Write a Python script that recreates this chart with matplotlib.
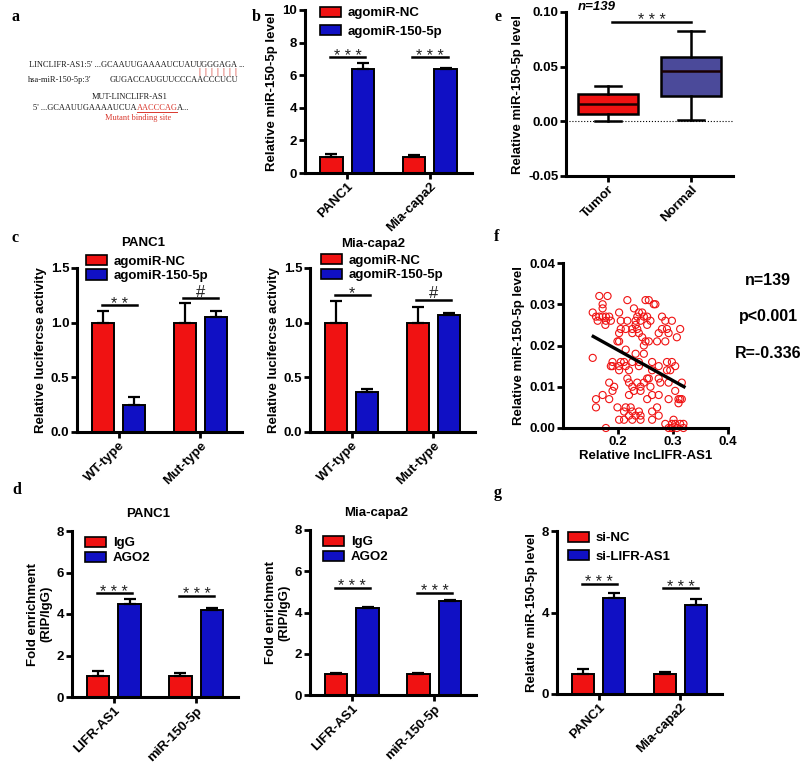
import matplotlib
matplotlib.use("Agg")
import matplotlib.pyplot as plt
from matplotlib.patches import Patch
from matplotlib.lines import Line2D
import numpy as np

plt.rcParams['font.family'] = ['Liberation Sans', 'DejaVu Sans']
plt.rcParams['font.weight'] = 'bold'
plt.rcParams['axes.labelweight'] = 'bold'

W, H = 800, 767
RED = '#F01212'
BLUE = '#1010C4'
SLATE = '#4B4A9A'

# ---------------- data ----------------
# panel b
b_groups = ['PANC1', 'Mia-capa2']
b_legend = ['agomiR-NC', 'agomiR-150-5p']
b_nc = [1.0, 1.0]
b_nc_err = [0.15, 0.10]
b_ago = [6.35, 6.35]
b_ago_err = [0.38, 0.08]
b_sig = ['***', '***']
b_sig_y = [7.1, 7.1]

# panel c
c_groups = ['WT-type', 'Mut-type']
c1_nc = [1.0, 1.0]
c1_nc_err = [0.11, 0.18]
c1_ago = [0.25, 1.05]
c1_ago_err = [0.07, 0.06]
c1_sig = ['**', '#']
c1_sig_y = [1.16, 1.226]
c2_nc = [1.0, 1.0]
c2_nc_err = [0.20, 0.14]
c2_ago = [0.37, 1.07]
c2_ago_err = [0.02, 0.02]
c2_sig = ['*', '#']
c2_sig_y = [1.253, 1.21]

# panel d
d_groups = ['LIFR-AS1', 'miR-150-5p']
d_legend = ['IgG', 'AGO2']
d1_igg = [1.0, 1.0]
d1_igg_err = [0.25, 0.15]
d1_ago = [4.5, 4.2]
d1_ago_err = [0.2, 0.07]
d1_sig_y = [5.0, 4.87]
d2_igg = [1.0, 1.0]
d2_igg_err = [0.05, 0.05]
d2_ago = [4.2, 4.55]
d2_ago_err = [0.05, 0.05]
d2_sig_y = [5.2, 4.95]

# panel e (box stats)
e_groups = ['Tumor', 'Normal']
e_whislo = [0.0, 0.001]
e_q1 = [0.007, 0.023]
e_med = [0.016, 0.046]
e_q3 = [0.025, 0.059]
e_whishi = [0.032, 0.083]
e_sig_y = 0.091

# panel f scatter
f_x = [0.166, 0.181, 0.172, 0.172, 0.154, 0.160, 0.166, 0.172, 0.178, 0.184,
       0.178, 0.177, 0.187, 0.163, 0.154, 0.202, 0.205, 0.217, 0.229, 0.217,
       0.232, 0.244, 0.250, 0.256, 0.268, 0.253, 0.259, 0.280, 0.286, 0.313,
       0.307, 0.289, 0.292, 0.280, 0.274, 0.271, 0.286, 0.202, 0.199, 0.202,
       0.214, 0.226, 0.235, 0.238, 0.232, 0.244, 0.250, 0.247, 0.256, 0.214,
       0.232, 0.247, 0.190, 0.205, 0.190, 0.202, 0.187, 0.214, 0.226, 0.238,
       0.238, 0.262, 0.274, 0.262, 0.298, 0.304, 0.289, 0.295, 0.202, 0.220,
       0.274, 0.256, 0.235, 0.247, 0.220, 0.184, 0.193, 0.190, 0.226, 0.241,
       0.259, 0.277, 0.292, 0.316, 0.304, 0.241, 0.229, 0.172, 0.184, 0.160,
       0.160, 0.220, 0.274, 0.292, 0.313, 0.316, 0.199, 0.214, 0.223, 0.211,
       0.226, 0.253, 0.262, 0.271, 0.202, 0.211, 0.220, 0.232, 0.241, 0.241,
       0.262, 0.274, 0.178, 0.286, 0.292, 0.298, 0.304, 0.307, 0.313, 0.319,
       0.319, 0.298, 0.310, 0.205, 0.238, 0.235, 0.241, 0.247, 0.253, 0.226,
       0.265, 0.298, 0.289, 0.217, 0.211, 0.253, 0.262, 0.226, 0.310, 0.301,
       0.238]
f_y = [0.032, 0.032, 0.030, 0.029, 0.028, 0.027, 0.027, 0.027, 0.027, 0.027,
       0.026, 0.025, 0.026, 0.026, 0.017, 0.028, 0.026, 0.031, 0.029, 0.026,
       0.026, 0.028, 0.031, 0.031, 0.030, 0.027, 0.026, 0.027, 0.026, 0.024,
       0.022, 0.024, 0.023, 0.024, 0.023, 0.021, 0.021, 0.023, 0.021, 0.021,
       0.024, 0.023, 0.024, 0.023, 0.025, 0.022, 0.021, 0.020, 0.021, 0.019,
       0.018, 0.018, 0.016, 0.016, 0.015, 0.015, 0.015, 0.015, 0.016, 0.016,
       0.015, 0.016, 0.015, 0.014, 0.016, 0.015, 0.014, 0.014, 0.014, 0.014,
       0.012, 0.012, 0.011, 0.011, 0.011, 0.011, 0.010, 0.009, 0.010, 0.010,
       0.010, 0.011, 0.011, 0.011, 0.009, 0.009, 0.009, 0.008, 0.007, 0.007,
       0.005, 0.008, 0.008, 0.007, 0.007, 0.007, 0.005, 0.005, 0.005, 0.004,
       0.004, 0.007, 0.004, 0.005, 0.002, 0.002, 0.003, 0.003, 0.003, 0.002,
       0.002, 0.003, 0.000, 0.001, 0.000, 0.001, 0.001, 0.000, 0.001, 0.001,
       0.000, 0.000, 0.007, 0.024, 0.028, 0.027, 0.026, 0.027, 0.025, 0.024,
       0.030, 0.026, 0.016, 0.012, 0.016, 0.012, 0.008, 0.002, 0.006, 0.002,
       0.004]
f_fit_x = [0.155, 0.320]
f_fit_y = [0.0222, 0.0100]
f_stats = ['n=139', 'p<0.001', 'R=-0.336']

# panel g
g_groups = ['PANC1', 'Mia-capa2']
g_legend = ['si-NC', 'si-LIFR-AS1']
g_nc = [1.0, 1.0]
g_nc_err = [0.22, 0.07]
g_si = [4.7, 4.35]
g_si_err = [0.25, 0.3]
g_sig_y = [5.4, 5.2]

# ---------------- helpers ----------------
fig = plt.figure(figsize=(W / 100, H / 100), dpi=100)


def box(l, t, r, b):
    return [l / W, 1 - b / H, (r - l) / W, (b - t) / H]


FS = 9.5


def style(ax):
    for s in ['top', 'right']:
        ax.spines[s].set_visible(False)
    for s in ['left', 'bottom']:
        ax.spines[s].set_linewidth(2.2)
    ax.tick_params(direction='out', length=4, width=2, labelsize=FS, pad=1.5)
    for lab in ax.get_xticklabels() + ax.get_yticklabels():
        lab.set_fontweight('bold')


def sig(ax, x0, x1, yy, lab):
    ax.plot([x0, x1], [yy, yy], color='black', lw=1.8, zorder=3)
    spaced = ' '.join(lab)
    dy = 1 if lab == '#' else -2.5
    fs = 12 if lab == '#' else 11.5
    ax.annotate(spaced, ((x0 + x1) / 2, yy), xytext=(0, dy), textcoords='offset points',
                ha='center', va='baseline', fontsize=fs, fontweight='normal',
                color='#222222', annotation_clip=False)


def bars(ax, groups, v1, e1, v2, e2, ylim, yticks, ylabel, legend, leg_xy,
         sig_labels, sig_y, lspace):
    x = np.arange(len(groups))
    off, w = 0.19, 0.27
    for xs, v, e, c in [(x - off, v1, e1, RED), (x + off, v2, e2, BLUE)]:
        ax.bar(xs, v, width=w, color=c, edgecolor='black', linewidth=1.4, zorder=2)
        ax.errorbar(xs, v, yerr=[np.zeros(len(e)), e], fmt='none', ecolor='black',
                    elinewidth=1.6, capsize=4.5, capthick=1.6, zorder=3)
    for xi, lab, yy in zip(x, sig_labels, sig_y):
        sig(ax, xi - 0.21, xi + 0.22, yy, lab)
    ax.set_xlim(-0.51, 1.51)
    ax.set_ylim(*ylim)
    ax.set_yticks(yticks)
    ax.set_xticks(x)
    ax.set_xticklabels(groups, rotation=45, ha='right', rotation_mode='anchor')
    ax.set_ylabel(ylabel, fontsize=FS, fontweight='bold', labelpad=3)
    handles = [Patch(facecolor=RED, edgecolor='black', linewidth=1.2),
               Patch(facecolor=BLUE, edgecolor='black', linewidth=1.2)]
    ax.legend(handles, legend, loc='upper left', bbox_to_anchor=leg_xy, frameon=False,
              handlelength=1.6, handleheight=0.8, handletextpad=0.5, labelspacing=lspace,
              borderaxespad=0, borderpad=0,
              prop={'weight': 'bold', 'size': FS, 'family': 'Liberation Sans'})
    style(ax)


# ---------------- panel b ----------------
axb = fig.add_axes(box(305, 10, 472, 173))
bars(axb, b_groups, b_nc, b_nc_err, b_ago, b_ago_err, (0, 10), [0, 2, 4, 6, 8, 10],
     'Relative miR-150-5p level', b_legend, (0.09, 1.02), b_sig, b_sig_y, 0.42)

# ---------------- panel c ----------------
axc1 = fig.add_axes(box(77, 268, 242, 432))
bars(axc1, c_groups, c1_nc, c1_nc_err, c1_ago, c1_ago_err, (0, 1.5), [0, 0.5, 1.0, 1.5],
     'Relative lucifercse activity', b_legend, (0.055, 1.08), c1_sig, c1_sig_y, 0.15)
axc1.set_yticklabels(['0.0', '0.5', '1.0', '1.5'])
axc1.set_title('PANC1', fontsize=FS, fontweight='bold', x=0.4, y=1.085)
axc2 = fig.add_axes(box(310, 268, 475, 432))
bars(axc2, c_groups, c2_nc, c2_nc_err, c2_ago, c2_ago_err, (0, 1.5), [0, 0.5, 1.0, 1.5],
     'Relative lucifercse activity', b_legend, (0.067, 1.085), c2_sig, c2_sig_y, 0.15)
axc2.set_yticklabels(['0.0', '0.5', '1.0', '1.5'])
axc2.set_title('Mia-capa2', fontsize=FS, fontweight='bold', x=0.38, y=1.08)

# ---------------- panel d ----------------
axd1 = fig.add_axes(box(72, 531, 238, 697))
bars(axd1, d_groups, d1_igg, d1_igg_err, d1_ago, d1_ago_err, (0, 8), [0, 2, 4, 6, 8],
     'Fold enrichment\n(RIP/IgG)', d_legend, (0.078, 0.965), ['***', '***'], d1_sig_y,
     0.18)
axd1.set_title('PANC1', fontsize=FS, fontweight='bold', x=0.46, y=1.035)
axd2 = fig.add_axes(box(310, 530, 476, 695))
bars(axd2, d_groups, d2_igg, d2_igg_err, d2_ago, d2_ago_err, (0, 8), [0, 2, 4, 6, 8],
     'Fold enrichment\n(RIP/IgG)', d_legend, (0.078, 0.965), ['***', '***'], d2_sig_y,
     0.18)
axd2.set_title('Mia-capa2', fontsize=FS, fontweight='bold', x=0.40, y=1.035)

# ---------------- panel g ----------------
axg = fig.add_axes(box(557, 531, 722, 694))
bars(axg, g_groups, g_nc, g_nc_err, g_si, g_si_err, (0, 8), [0, 4, 8],
     'Relative miR-150-5p level', g_legend, (0.067, 0.995), ['***', '***'], g_sig_y, 0.45)

# ---------------- panel e ----------------
axe = fig.add_axes(box(566, 12, 733, 176))
stats = []
for i in range(2):
    stats.append({'whislo': e_whislo[i], 'q1': e_q1[i], 'med': e_med[i],
                  'q3': e_q3[i], 'whishi': e_whishi[i], 'fliers': [],
                  'label': e_groups[i]})
bp = axe.bxp(stats, positions=[0, 1], widths=0.72, patch_artist=True,
             showfliers=False, capwidths=0.32,
             boxprops={'linewidth': 1.8, 'edgecolor': 'black'},
             medianprops={'color': '#1a0000', 'linewidth': 1.8},
             whiskerprops={'linewidth': 1.8}, capprops={'linewidth': 1.8})
for patch, c in zip(bp['boxes'], [RED, SLATE]):
    patch.set_facecolor(c)
axe.axhline(0, color='black', lw=0.8, ls=':', zorder=0)
sig(axe, 0.05, 1.0, e_sig_y, '***')
axe.text(-0.37, 0.1045, 'n=139', ha='left', va='center', fontsize=FS,
         fontweight='bold', fontstyle='italic')
axe.set_xlim(-0.51, 1.51)
axe.set_ylim(-0.05, 0.10)
axe.set_yticks([-0.05, 0, 0.05, 0.10])
axe.set_yticklabels(['-0.05', '0.00', '0.05', '0.10'])
axe.set_xticks([0, 1])
axe.set_xticklabels(e_groups, rotation=45, ha='right', rotation_mode='anchor')
axe.set_ylabel('Relative miR-150-5p level', fontsize=FS, fontweight='bold', labelpad=3)
style(axe)

# ---------------- panel f ----------------
axf = fig.add_axes(box(563, 263, 728, 428))
axf.scatter(f_x, f_y, s=26, facecolors='none', edgecolors=RED, linewidths=0.8,
            zorder=2, clip_on=False)
axf.plot(f_fit_x, f_fit_y, color='black', lw=2.4, zorder=3)
axf.set_xlim(0.1, 0.4)
axf.set_ylim(0, 0.04)
axf.set_xticks([0.2, 0.3, 0.4])
axf.set_yticks([0, 0.01, 0.02, 0.03, 0.04])
axf.set_yticklabels(['0.00', '0.01', '0.02', '0.03', '0.04'])
axf.set_xlabel('Relative lncLIFR-AS1', fontsize=FS, fontweight='bold', labelpad=2)
axf.set_ylabel('Relative miR-150-5p level', fontsize=FS, fontweight='bold', labelpad=3)
style(axf)
for txt, yy in zip(f_stats, [280, 317, 353]):
    fig.text(768 / W, 1 - yy / H, txt, ha='center', va='center', fontsize=11.5,
             fontweight='bold')

# ---------------- panel letters ----------------
for letter, (px, py) in {'a': (12, 17), 'b': (252, 17), 'c': (12, 238), 'd': (12, 490),
                         'e': (494, 17), 'f': (494, 237), 'g': (494, 493)}.items():
    fig.text(px / W, 1 - py / H, letter, fontsize=11.5, fontweight='bold',
             family='Liberation Serif', ha='left', va='center')

# ---------------- panel a ----------------
renderer = fig.canvas.get_renderer()
SER = 'Liberation Serif'
SFS = 6.0
DARK = '#1a1a1a'
SEQRED = '#D9382E'


def seq_line(x, y, pieces):
    cur = x
    objs = []
    for s, c in pieces:
        t = fig.text(cur / W, 1 - y / H, s, color=c, fontsize=SFS, family=SER,
                     fontweight='normal', ha='left', va='center')
        bb = t.get_window_extent(renderer)
        cur = bb.x1
        objs.append(t)
    return objs


l1 = seq_line(29, 65, [("LINCLIFR-AS1:5' ...GCAAUUGAAAAUCUAU", DARK),
                       ("UGGGAGA", DARK), ("...", DARK)])
bb = l1[1].get_window_extent(renderer)
n_pairs = 7
for i in range(n_pairs):
    xm = bb.x0 + (i + 0.5) * bb.width / n_pairs
    fig.text(xm / W, 1 - 72.5 / H, "|", color=SEQRED, fontsize=SFS, family=SER,
             fontweight='bold', ha='center', va='center')
fig.text(28 / W, 1 - 80 / H, "hsa-miR-150-5p:3'", color=DARK, fontsize=SFS,
         family=SER, fontweight='normal', ha='left', va='center')
fig.text(bb.x1 / W, 1 - 80 / H, "GUGACCAUGUUCCCAACCCUCU", color=DARK, fontsize=SFS,
         family=SER, fontweight='normal', ha='right', va='center')
fig.text(130 / W, 1 - 97 / H, "MUT-LINCLIFR-AS1", color=DARK, fontsize=SFS,
         family=SER, fontweight='normal', ha='center', va='center')
l4 = seq_line(33, 108, [("5' ...GCAAUUGAAAAUCUA", DARK), ("AACCCAG", SEQRED),
                        ("A...", DARK)])
bb4 = l4[1].get_window_extent(renderer)
fig.add_artist(Line2D([bb4.x0 / W, bb4.x1 / W], [1 - 112 / H, 1 - 112 / H],
                      color=SEQRED, lw=0.7))
fig.text(138 / W, 1 - 118 / H, "Mutant binding site", color=SEQRED, fontsize=SFS,
         family=SER, fontweight='normal', ha='center', va='center')

fig.savefig('out.png', dpi=100)
